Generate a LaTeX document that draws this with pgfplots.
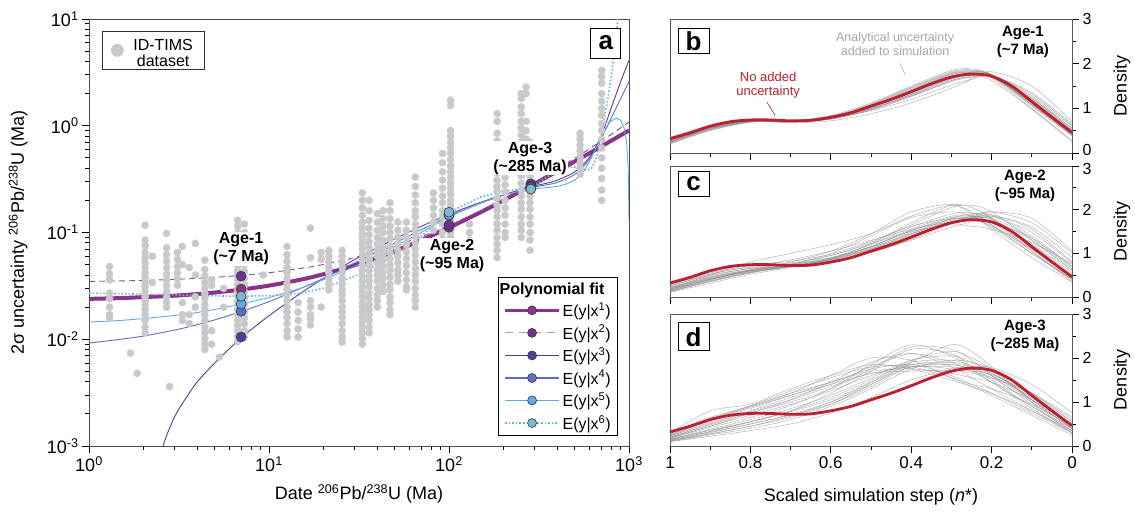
\documentclass[border=0pt]{standalone}
\usepackage{fontspec}
\setmainfont{Liberation Sans}
\setsansfont{Liberation Sans}
\usepackage{pgfplots}
\pgfplotsset{compat=1.18}
\definecolor{scat}{RGB}{200,201,203}
\definecolor{cA}{RGB}{140,50,135}
\definecolor{cB}{RGB}{130,75,155}
\definecolor{cBm}{RGB}{110,50,140}
\definecolor{cC}{RGB}{85,60,150}
\definecolor{cD}{RGB}{95,110,190}
\definecolor{cE}{RGB}{95,170,230}
\definecolor{cF}{RGB}{110,180,205}
\definecolor{cFm}{RGB}{125,185,205}
\definecolor{redl}{RGB}{190,30,45}
\definecolor{gl}{RGB}{135,135,135}
\definecolor{mk}{RGB}{55,55,65}
\newcommand\fs[1]{\fontsize{#1}{#1}\selectfont}
\pgfplotsset{
 gr/.style={gl, line width=0.5pt, opacity=0.6, smooth, forget plot},
 rd/.style={redl, line width=2.8pt, smooth, forget plot},
 mstyle/.style={only marks, mark=*, mark size=5pt, mark options={fill=#1, draw=mk, line width=0.6pt}, forget plot},
 rpanel/.style={scale only axis, width=402pt, anchor=south west,
   xmin=0, xmax=1, ymin=0, ymax=3, x dir=reverse,
   xtick={0,0.2,0.4,0.6,0.8,1}, minor xtick={0.1,0.3,0.5,0.7,0.9},
   minor ytick={0.5,1.5,2.5},
   xtick pos=bottom, ytick pos=right, yticklabel pos=right, tick align=outside,
   major tick length=7pt, minor tick length=4pt,
   tick style={black, line width=0.8pt},
   axis line style={black!65, line width=0.8pt},
   tick label style={font=\fs{17}},
   yticklabel style={font=\fs{16}, inner ysep=0pt},
   ylabel={Density}, ylabel style={font=\fs{18}, at={(axis description cs:1.124,0.5)}, anchor=center},
   clip=true},
}
\begin{document}
\begin{tikzpicture}
% ================= panel a =================
\begin{axis}[
 at={(89pt,68pt)}, anchor=south west, scale only axis, width=540pt, height=427pt,
 xmode=log, ymode=log, xmin=1, xmax=1000, ymin=0.001, ymax=10,
 xtick={1,10,100,1000},
 xticklabels={10\textsuperscript{0},10\textsuperscript{1},10\textsuperscript{2},10\textsuperscript{3}},
 minor xtick={2,3,4,5,6,7,8,9,20,30,40,50,60,70,80,90,200,300,400,500,600,700,800,900},
 ytick={0.001,0.01,0.1,1,10},
 yticklabels={10\textsuperscript{-3},10\textsuperscript{-2},10\textsuperscript{-1},10\textsuperscript{0},10\textsuperscript{1}},
 minor ytick={0.002,0.003,0.004,0.005,0.006,0.007,0.008,0.009,0.02,0.03,0.04,0.05,0.06,0.07,0.08,0.09,0.2,0.3,0.4,0.5,0.6,0.7,0.8,0.9,2,3,4,5,6,7,8,9},
 tick align=outside, xtick pos=bottom, ytick pos=left,
 major tick length=7pt, minor tick length=4pt,
 tick style={black, line width=0.8pt},
 axis line style={black!70, line width=0.9pt},
 tick label style={font=\fs{18}},
 xlabel={Date \textsuperscript{206}Pb/\textsuperscript{238}U (Ma)},
 ylabel={2σ uncertainty \textsuperscript{206}Pb/\textsuperscript{238}U (Ma)},
 label style={font=\fs{18}},
 xlabel style={at={(axis description cs:0.5,-0.112)}, anchor=center},
 ylabel style={at={(axis description cs:-0.131,0.5)}, anchor=center},
 legend style={at={(rel axis cs:0.98,0.023)}, anchor=south east, draw=black, line width=0.8pt,
   font=\fs{16}, fill=white, row sep=3pt, inner xsep=5pt, inner ysep=3pt, cells={anchor=west}},
 legend image code/.code={\draw[mark repeat=2,mark phase=2,#1] plot coordinates {(0pt,0pt) (27pt,0pt) (54pt,0pt)};},
]
% scatter
\addplot[only marks, mark=*, mark size=3.6pt, scat, forget plot] coordinates {
(1.3,0.048)(1.3,0.041)(1.3,0.036)(1.3,0.027)(1.3,0.024)(1.3,0.02)(1.3,0.017)(1.3,0.016)
(1.7,0.0074)(1.85,0.0048)(2.8,0.0036)(5.3,0.0068)
(2.05,0.117)(2.05,0.085)(2.05,0.075)(2.05,0.065)(2.05,0.058)(2.05,0.052)(2.05,0.047)(2.05,0.042)(2.05,0.038)(2.05,0.034)
(2.05,0.031)(2.05,0.028)(2.05,0.025)(2.05,0.023)(2.05,0.021)(2.05,0.019)(2.05,0.017)(2.05,0.015)(2.05,0.013)(2.05,0.0115)
(2.25,0.06)(2.25,0.034)
(2.7,0.098)(2.7,0.072)(2.7,0.062)(2.7,0.054)(2.7,0.047)(2.7,0.041)(2.7,0.036)(2.7,0.032)(2.7,0.028)(2.7,0.025)(2.7,0.022)(2.7,0.02)
(3.1,0.065)(3.1,0.056)(3.1,0.048)(3.1,0.042)(3.1,0.037)(3.1,0.032)
(3.3,0.074)(3.3,0.05)(3.3,0.022)(3.3,0.017)(3.3,0.015)
(3.6,0.047)(3.6,0.017)(3.6,0.014)
(3.9,0.079)(3.9,0.04)(3.9,0.025)(3.9,0.02)
(4.4,0.055)(4.4,0.045)(4.4,0.039)(4.4,0.034)(4.4,0.03)(4.4,0.027)(4.4,0.024)(4.4,0.021)(4.4,0.019)(4.4,0.017)
(4.4,0.015)(4.4,0.013)(4.4,0.0115)(4.4,0.0102)(4.4,0.009)(4.4,0.008)
(4.8,0.036)(4.8,0.032)(4.8,0.012)(4.8,0.009)
(5.6,0.03)(5.6,0.02)
(6.7,0.13)(6.7,0.115)(6.7,0.1)(6.7,0.088)(6.7,0.078)(6.7,0.07)(6.7,0.062)(6.7,0.055)(6.7,0.049)(6.7,0.044)(6.7,0.04)(6.7,0.036)
(6.7,0.032)(6.7,0.029)(6.7,0.026)(6.7,0.023)(6.7,0.021)(6.7,0.019)(6.7,0.017)(6.7,0.015)(6.7,0.0135)(6.7,0.012)(6.7,0.0107)(6.7,0.0095)
(7.3,0.12)(7.3,0.1)(7.3,0.082)(7.3,0.07)(7.3,0.06)(7.3,0.05)(7.3,0.043)(7.3,0.037)(7.3,0.032)(7.3,0.028)(7.3,0.024)(7.3,0.021)
(7.3,0.018)(7.3,0.016)(7.3,0.014)(7.3,0.012)(7.3,0.0105)
(9.3,0.068)(9.3,0.04)
(12.6,0.074)(12.6,0.062)(12.6,0.054)(12.6,0.047)(12.6,0.042)(12.6,0.037)(12.6,0.033)(12.6,0.029)(12.6,0.026)(12.6,0.023)
(12.6,0.02)(12.6,0.018)(12.6,0.016)(12.6,0.014)(12.6,0.012)(12.6,0.0105)
(14.5,0.022)(14.5,0.018)(14.5,0.015)(14.5,0.0125)(14.5,0.0105)
(17,0.11)(17,0.058)(17,0.023)(17,0.02)(17,0.017)(17,0.0155)(17,0.0136)
(19.5,0.065)(19.5,0.056)(19.5,0.02)
(21.5,0.068)(21.5,0.06)(21.5,0.053)(21.5,0.047)(21.5,0.042)(21.5,0.037)(21.5,0.033)(21.5,0.029)
(25.5,0.068)(25.5,0.06)(25.5,0.053)(25.5,0.047)(25.5,0.042)(25.5,0.037)(25.5,0.033)(25.5,0.029)(25.5,0.026)(25.5,0.023)
(25.5,0.02)(25.5,0.018)(25.5,0.016)(25.5,0.014)(25.5,0.012)(25.5,0.0105)(25.5,0.0094)
(33,0.235)(33,0.2)(33,0.17)(33,0.145)(33,0.125)(33,0.11)(33,0.098)(33,0.088)(33,0.078)(33,0.07)(33,0.062)(33,0.055)(33,0.049)(33,0.044)
(33,0.039)(33,0.035)(33,0.031)(33,0.028)(33,0.025)(33,0.022)(33,0.02)(33,0.018)(33,0.016)(33,0.0145)(33,0.013)(33,0.0115)(33,0.0102)(33,0.009)
(36,0.2)(36,0.16)(36,0.13)(36,0.11)(36,0.095)(36,0.082)(36,0.072)(36,0.063)(36,0.056)(36,0.05)(36,0.044)(36,0.039)(36,0.035)(36,0.031)
(36,0.027)(36,0.024)(36,0.021)(36,0.019)(36,0.017)(36,0.015)(36,0.013)(36,0.0115)
(40,0.15)(40,0.125)(40,0.105)(40,0.09)(40,0.078)(40,0.068)(40,0.06)(40,0.052)(40,0.045)(40,0.04)(40,0.035)(40,0.03)(40,0.026)(40,0.023)(40,0.02)
(43,0.16)(43,0.135)(43,0.115)(43,0.1)(43,0.085)(43,0.073)(43,0.063)(43,0.055)(43,0.048)(43,0.042)(43,0.037)(43,0.032)(43,0.028)
(47,0.19)(47,0.16)(47,0.135)(47,0.115)(47,0.1)(47,0.087)(47,0.075)(47,0.065)(47,0.057)(47,0.05)(47,0.044)(47,0.038)(47,0.033)
(47,0.029)(47,0.025)(47,0.022)(47,0.019)(47,0.017)
(52,0.125)(52,0.105)(52,0.09)(52,0.078)(52,0.068)(52,0.06)(52,0.052)(52,0.045)(52,0.04)(52,0.035)
(58,0.125)(58,0.105)(58,0.09)(58,0.077)(58,0.066)(58,0.057)(58,0.049)(58,0.042)(58,0.036)(58,0.031)(58,0.029)
(65,0.33)(65,0.27)(65,0.225)(65,0.19)(65,0.16)(65,0.14)(65,0.12)(65,0.105)(65,0.092)(65,0.08)(65,0.07)(65,0.061)(65,0.053)
(65,0.046)(65,0.04)(65,0.035)(65,0.03)(65,0.026)(65,0.023)(65,0.02)
(82,0.235)(82,0.2)(82,0.17)(82,0.145)(82,0.125)(82,0.105)
(92,0.55)(92,0.45)(92,0.37)(92,0.31)(92,0.26)(92,0.22)(92,0.19)(92,0.16)(92,0.14)(92,0.12)(92,0.1)(92,0.087)(92,0.075)(92,0.068)
(102,1.74)(102,1.55)(102,0.9)(102,0.8)(102,0.7)(102,0.62)(102,0.55)(102,0.48)(102,0.42)(102,0.37)(102,0.33)(102,0.29)
(102,0.26)(102,0.23)(102,0.2)(102,0.18)(102,0.16)(102,0.14)(102,0.125)(102,0.11)(102,0.1)(102,0.09)(102,0.08)(102,0.07)
(130,0.12)(130,0.1)(130,0.085)(130,0.07)
(185,1.3)(185,1.1)(185,0.85)(185,0.72)(185,0.62)(185,0.54)(185,0.47)(185,0.41)(185,0.36)(185,0.31)(185,0.27)
(185,0.24)(185,0.21)(185,0.18)(185,0.16)(185,0.14)(185,0.12)(185,0.105)(185,0.09)(185,0.078)(185,0.068)(185,0.058)
(205,0.33)(205,0.28)(205,0.24)(205,0.2)(205,0.17)(205,0.145)(205,0.12)(205,0.1)(205,0.09)
(252,2.0)(252,1.8)(252,1.5)(252,1.3)(252,1.1)(252,0.95)(252,0.82)(252,0.7)(252,0.6)(252,0.52)(252,0.45)
(252,0.39)(252,0.34)(252,0.29)(252,0.25)(252,0.22)(252,0.19)(252,0.165)(252,0.14)(252,0.12)(252,0.105)(252,0.09)
(268,2.3)(268,2.0)(268,1.1)(268,0.9)(268,0.75)(268,0.62)(268,0.53)(268,0.45)
(282,0.7)(282,0.6)(282,0.52)(282,0.45)(282,0.39)(282,0.34)(282,0.3)(282,0.26)(282,0.22)(282,0.19)(282,0.165)
(282,0.14)(282,0.12)(282,0.1)(282,0.085)(282,0.068)
(535,0.85)(535,0.75)(535,0.66)(535,0.58)(535,0.51)(535,0.45)(535,0.4)(535,0.35)
(705,3.3)(705,2.9)(705,2.5)(705,2.0)(705,1.7)(705,1.45)(705,1.25)(705,1.05)(705,0.9)(705,0.75)(705,0.62)(705,0.5)
(705,0.4)(705,0.32)(705,0.25)(705,0.2)
};
% fits
\addplot[cA, line width=4pt, smooth, forget plot] coordinates {
(1,0.0239)(1.5,0.0243)(2,0.0248)(3,0.0256)(4,0.0265)(5,0.0274)(7,0.0292)(10,0.0318)(15,0.0362)(20,0.0406)(30,0.0494)
(40,0.0582)(50,0.067)(70,0.0846)(100,0.111)(150,0.155)(200,0.199)(285,0.2738)(350,0.331)(400,0.375)(500,0.463)
(600,0.551)(700,0.639)(800,0.727)(900,0.815)(1000,0.903)};
\addplot[cB, line width=0.9pt, dashed, dash pattern=on 6pt off 4pt, smooth, forget plot] coordinates {
(1,0.0348)(1.5,0.0352)(2,0.0356)(3,0.0364)(4,0.0372)(5,0.038)(7,0.0396)(10,0.042)(15,0.0461)(20,0.0501)(30,0.0582)
(40,0.0664)(50,0.0746)(70,0.0912)(100,0.1165)(150,0.1596)(200,0.204)(285,0.2823)(350,0.3446)(400,0.394)(500,0.4965)
(600,0.604)(700,0.7165)(800,0.834)(900,0.9565)(1000,1.084)};
\addplot[cC, line width=0.9pt, smooth, forget plot] coordinates {
(2.3,0.0004)(2.58,0.001)(3,0.0019)(3.5,0.0029)(4,0.004)(5,0.006)(7,0.0103)(10,0.0166)(15,0.027)(20,0.037)(30,0.056)
(40,0.072)(50,0.087)(70,0.114)(100,0.148)(150,0.192)(200,0.225)(285,0.268)(350,0.29)(400,0.31)(500,0.37)
(600,0.5)(700,0.8)(800,1.5)(900,2.6)(1000,4.1)};
\addplot[cD, line width=0.9pt, smooth, forget plot] coordinates {
(1,0.0092)(1.5,0.01)(2,0.0107)(3,0.0122)(4,0.0137)(5,0.0152)(7,0.0182)(10,0.0225)(15,0.03)(20,0.037)(30,0.052)
(40,0.066)(50,0.08)(70,0.106)(100,0.142)(150,0.188)(200,0.222)(285,0.262)(350,0.28)(400,0.295)(500,0.35)
(600,0.48)(700,0.75)(800,1.2)(900,1.8)(1000,2.6)};
\addplot[cE, line width=0.9pt, forget plot] coordinates {
(1,0.0145)(1.5,0.015)(2,0.0156)(3,0.0167)(4,0.0178)(5,0.019)(7,0.0214)(10,0.0245)(15,0.03)(20,0.036)(30,0.048)
(40,0.061)(50,0.074)(70,0.1)(100,0.14)(150,0.19)(200,0.225)(285,0.255)(350,0.263)(400,0.27)(450,0.285)(500,0.31)
(550,0.36)(600,0.45)(650,0.6)(700,0.78)(750,0.98)(800,1.12)(850,1.18)(900,1.12)(940,0.95)(970,0.7)(990,0.4)(1000,0.13)};
\addplot[cF, line width=1.6pt, dotted, forget plot] coordinates {
(1,0.027)(1.5,0.0267)(2,0.0264)(3,0.026)(5,0.0255)(7,0.0253)(10,0.0256)(15,0.027)(20,0.03)(30,0.039)(40,0.05)
(55,0.07)(70,0.092)(100,0.155)(150,0.215)(200,0.245)(285,0.262)(350,0.33)(420,0.4)(500,0.41)(580,0.38)(620,0.4)
(660,0.5)(700,0.8)(750,1.5)(800,3.0)(840,6.0)(870,10.5)};
% markers
\addplot[mstyle=cA] coordinates {(7,0.0295)(100,0.112)(285,0.285)};
\addplot[mstyle=cBm] coordinates {(7,0.039)(100,0.118)(285,0.283)};
\addplot[mstyle=cC] coordinates {(7,0.0105)(100,0.148)(285,0.27)};
\addplot[mstyle=cD] coordinates {(7,0.0183)(100,0.145)(285,0.265)};
\addplot[mstyle=cE] coordinates {(7,0.0214)(100,0.146)(285,0.257)};
\addplot[mstyle=cFm] coordinates {(7,0.0253)(100,0.155)(285,0.255)};
% legend
\addlegendimage{empty legend}\addlegendentry{\hspace*{-63pt}\textbf{Polynomial fit}}
\addlegendimage{cA, line width=3pt, mark=*, mark size=4.5pt, mark options={solid, fill=cA, draw=mk, line width=0.6pt}}
\addlegendentry{E(y|x\textsuperscript{1})}
\addlegendimage{cB!60, line width=1.2pt, dash pattern=on 8pt off 6pt, mark=*, mark size=4.5pt, mark options={solid, fill=cBm, draw=mk, line width=0.6pt}}
\addlegendentry{E(y|x\textsuperscript{2})}
\addlegendimage{cC, line width=1.5pt, mark=*, mark size=4.5pt, mark options={solid, fill=cC, draw=mk, line width=0.6pt}}
\addlegendentry{E(y|x\textsuperscript{3})}
\addlegendimage{cD, line width=1.5pt, mark=*, mark size=4.5pt, mark options={solid, fill=cD, draw=mk, line width=0.6pt}}
\addlegendentry{E(y|x\textsuperscript{4})}
\addlegendimage{cE, line width=1.5pt, mark=*, mark size=4.5pt, mark options={solid, fill=cE, draw=mk, line width=0.6pt}}
\addlegendentry{E(y|x\textsuperscript{5})}
\addlegendimage{cF, line width=1.6pt, dotted, mark=*, mark size=4.5pt, mark options={solid, fill=cFm, draw=mk, line width=0.6pt}}
\addlegendentry{E(y|x\textsuperscript{6})}
\coordinate (ageA) at (axis cs:7,0.07);
\coordinate (ageB) at (axis cs:104,0.0614);
\coordinate (ageC) at (axis cs:282,0.497);
\coordinate (boxa) at (rel axis cs:0.957,0.944);
\end{axis}
\node[fill=white, inner sep=1pt, font=\bfseries\fontsize{16}{18}\selectfont, align=center] at (ageA) {Age-1\\(\textasciitilde7 Ma)};
\node[fill=white, inner sep=1pt, font=\bfseries\fontsize{16}{18}\selectfont, align=center] at (ageB) {Age-2\\(\textasciitilde95 Ma)};
\node[fill=white, inner sep=1pt, font=\bfseries\fontsize{16}{18}\selectfont, align=center] at (ageC) {Age-3\\(\textasciitilde285 Ma)};
\node[draw=black, line width=0.8pt, fill=white, font=\bfseries\fs{26}, minimum width=30pt, minimum height=30pt, inner sep=0pt] at (boxa) {a};
% ID-TIMS legend overlay
\begin{axis}[at={(89pt,68pt)}, anchor=south west, scale only axis, width=540pt, height=427pt,
 hide axis, xmin=0, xmax=1, ymin=0, ymax=1,
 legend style={at={(rel axis cs:0.024,0.972)}, anchor=north west, draw=black!80, line width=0.8pt,
   font=\fs{16}, inner xsep=9pt, inner ysep=6pt, column sep=8pt},
 legend image code/.code={\draw plot[#1] coordinates {(6pt,0pt)};},
]
\addlegendimage{only marks, mark=*, mark size=6pt, scat}
\addlegendentry{\begin{tabular}{@{}c@{}}ID-TIMS\\[0pt]dataset\end{tabular}}
\end{axis}
% ================= panel b =================
\begin{axis}[rpanel, at={(670pt,361pt)}, height=134pt, xticklabels={},
 ytick={1,2,3}, yticklabels={1,2,3},
 extra y ticks={0}, extra y tick labels={0},
 extra y tick style={yticklabel style={yshift=3pt}, major tick length=7pt, tick style={black, line width=0.8pt}}]
\addplot[gr] coordinates {(1,.28)(.9,.58)(.8,.73)(.7,.72)(.6,.80)(.5,1.05)(.4,1.40)(.3,1.75)(.25,1.82)(.2,1.75)(.1,1.15)(0,.45)};
\addplot[gr] coordinates {(1,.25)(.9,.55)(.8,.72)(.7,.70)(.6,.78)(.5,1.02)(.4,1.35)(.3,1.68)(.25,1.74)(.2,1.70)(.1,1.18)(0,.50)};
\addplot[gr] coordinates {(1,.30)(.9,.60)(.8,.75)(.7,.73)(.6,.79)(.5,1.00)(.4,1.30)(.3,1.65)(.25,1.74)(.2,1.72)(.1,1.22)(0,.55)};
\addplot[gr] coordinates {(1,.22)(.9,.52)(.8,.70)(.7,.71)(.6,.82)(.5,1.10)(.4,1.48)(.3,1.82)(.25,1.86)(.2,1.74)(.1,1.05)(0,.40)};
\addplot[gr] coordinates {(1,.35)(.9,.62)(.8,.74)(.7,.71)(.6,.76)(.5,.96)(.4,1.26)(.3,1.62)(.25,1.72)(.2,1.73)(.1,1.28)(0,.60)};
\addplot[gr] coordinates {(1,.27)(.9,.57)(.8,.72)(.7,.70)(.6,.76)(.5,.98)(.4,1.32)(.3,1.68)(.25,1.76)(.2,1.74)(.1,1.20)(0,.50)};
\addplot[gr] coordinates {(1,.20)(.9,.50)(.8,.69)(.7,.72)(.6,.84)(.5,1.12)(.4,1.50)(.3,1.85)(.25,1.88)(.2,1.76)(.1,1.08)(0,.38)};
\addplot[gr] coordinates {(1,.32)(.9,.61)(.8,.74)(.7,.72)(.6,.78)(.5,.95)(.4,1.20)(.3,1.52)(.25,1.65)(.2,1.72)(.1,1.35)(0,.65)};
\addplot[gr] coordinates {(1,.25)(.9,.55)(.8,.70)(.7,.68)(.6,.72)(.5,.88)(.4,1.12)(.3,1.45)(.25,1.65)(.2,1.82)(.1,1.50)(0,.70)};
\addplot[gr] coordinates {(1,.29)(.9,.59)(.8,.73)(.7,.71)(.6,.79)(.5,1.03)(.4,1.38)(.3,1.72)(.25,1.78)(.2,1.71)(.1,1.12)(0,.44)};
\addplot[gr] coordinates {(1,.24)(.9,.54)(.8,.71)(.7,.72)(.6,.81)(.5,1.06)(.4,1.42)(.3,1.78)(.25,1.83)(.2,1.73)(.1,1.10)(0,.42)};
\addplot[gr] coordinates {(1,.31)(.9,.60)(.8,.73)(.7,.70)(.6,.77)(.5,.99)(.4,1.31)(.3,1.66)(.25,1.75)(.2,1.73)(.1,1.25)(0,.55)};
\addplot[gr] coordinates {(1,.23)(.9,.53)(.8,.70)(.7,.70)(.6,.79)(.5,1.04)(.4,1.38)(.3,1.72)(.25,1.79)(.2,1.74)(.1,1.15)(0,.47)};
\addplot[gr] coordinates {(1,.28)(.9,.57)(.8,.71)(.7,.69)(.6,.76)(.5,.97)(.4,1.28)(.3,1.62)(.25,1.70)(.2,1.70)(.1,1.22)(0,.52)};
\addplot[gr] coordinates {(1,.33)(.9,.61)(.8,.74)(.7,.73)(.6,.82)(.5,1.07)(.4,1.42)(.3,1.76)(.25,1.80)(.2,1.70)(.1,1.08)(0,.42)};
\addplot[gr] coordinates {(1,.21)(.9,.51)(.8,.69)(.7,.70)(.6,.80)(.5,1.08)(.4,1.46)(.3,1.80)(.25,1.84)(.2,1.75)(.1,1.12)(0,.40)};
\addplot[gr] coordinates {(1,.26)(.9,.57)(.8,.73)(.7,.73)(.6,.80)(.5,1.00)(.4,1.28)(.3,1.60)(.25,1.70)(.2,1.74)(.1,1.32)(0,.62)};
\addplot[gr] coordinates {(1,.30)(.9,.59)(.8,.72)(.7,.70)(.6,.78)(.5,1.02)(.4,1.36)(.3,1.70)(.25,1.76)(.2,1.71)(.1,1.14)(0,.45)};
\addplot[gr] coordinates {(1,.27)(.9,.56)(.8,.71)(.7,.71)(.6,.81)(.5,1.08)(.4,1.45)(.3,1.78)(.25,1.80)(.2,1.68)(.1,1.00)(0,.28)};
\addplot[gr] coordinates {(1,.24)(.9,.54)(.8,.70)(.7,.70)(.6,.79)(.5,1.05)(.4,1.40)(.3,1.72)(.25,1.74)(.2,1.62)(.1,.98)(0,.25)};
\addplot[rd] coordinates {(1,.32)(.95,.45)(.9,.6)(.85,.7)(.8,.74)(.75,.74)(.7,.72)(.65,.73)(.6,.8)(.55,.9)(.5,1.05)(.45,1.2)(.4,1.37)(.35,1.55)(.3,1.7)(.25,1.77)(.2,1.72)(.15,1.5)(.1,1.15)(.05,.8)(0,.46)};
\node[font=\fontsize{12.5}{14}\selectfont, text=black!35, align=center] at (axis cs:0.44,2.44) {Analytical uncertainty\\added to simulation};
\draw[black!35, line width=0.5pt] (axis cs:0.428,2.01) -- (axis cs:0.415,1.745);
\node[font=\fontsize{13}{14}\selectfont, text=redl, align=center] at (axis cs:0.756,1.53) {No added\\uncertainty};
\draw[redl, line width=0.6pt] (axis cs:0.759,1.14) -- (axis cs:0.739,0.85);
\node[font=\bfseries\fontsize{15}{18}\selectfont, align=center] at (axis cs:0.122,2.48) {Age-1\\(\textasciitilde7 Ma)};
\node[draw=black, line width=0.8pt, fill=white, font=\bfseries\fs{26}, minimum width=31pt, minimum height=25pt, inner sep=0pt] at (axis cs:0.9415,2.5) {b};
\end{axis}
% ================= panel c =================
\begin{axis}[rpanel, at={(670pt,217pt)}, height=131pt, xticklabels={},
 ytick={0,1,2}, yticklabels={0,1,2},
 extra y ticks={3}, extra y tick labels={3},
 extra y tick style={yticklabel style={yshift=-3pt}, major tick length=7pt, tick style={black, line width=0.8pt}}]
\addplot[gr] coordinates {(1,.15)(.9,.40)(.8,.60)(.7,.75)(.6,.95)(.5,1.25)(.4,1.65)(.3,2.05)(.25,2.10)(.2,1.95)(.1,1.30)(0,.60)};
\addplot[gr] coordinates {(1,.20)(.9,.45)(.8,.62)(.7,.72)(.6,.85)(.5,1.10)(.4,1.45)(.3,1.80)(.25,1.90)(.2,1.88)(.1,1.40)(0,.70)};
\addplot[gr] coordinates {(1,.12)(.9,.35)(.8,.55)(.7,.70)(.6,.88)(.5,1.15)(.4,1.55)(.3,1.85)(.25,1.86)(.2,1.70)(.1,1.10)(0,.45)};
\addplot[gr] coordinates {(1,.25)(.9,.50)(.8,.65)(.7,.72)(.6,.82)(.5,1.02)(.4,1.30)(.3,1.60)(.25,1.72)(.2,1.85)(.1,1.60)(0,.90)};
\addplot[gr] coordinates {(1,.18)(.9,.42)(.8,.60)(.7,.73)(.6,.90)(.5,1.20)(.4,1.60)(.3,1.90)(.25,1.92)(.2,1.80)(.1,1.20)(0,.50)};
\addplot[gr] coordinates {(1,.10)(.9,.32)(.8,.52)(.7,.68)(.6,.88)(.5,1.22)(.4,1.70)(.3,2.10)(.25,2.05)(.2,1.80)(.1,1.05)(0,.40)};
\addplot[gr] coordinates {(1,.22)(.9,.48)(.8,.66)(.7,.78)(.6,.95)(.5,1.22)(.4,1.50)(.3,1.65)(.25,1.62)(.2,1.55)(.1,1.25)(0,.75)};
\addplot[gr] coordinates {(1,.16)(.9,.40)(.8,.58)(.7,.70)(.6,.84)(.5,1.08)(.4,1.40)(.3,1.72)(.25,1.85)(.2,1.95)(.1,1.70)(0,1.00)};
\addplot[gr] coordinates {(1,.28)(.9,.55)(.8,.72)(.7,.82)(.6,.98)(.5,1.28)(.4,1.62)(.3,1.80)(.25,1.76)(.2,1.62)(.1,1.10)(0,.50)};
\addplot[gr] coordinates {(1,.14)(.9,.38)(.8,.57)(.7,.69)(.6,.82)(.5,1.05)(.4,1.38)(.3,1.70)(.25,1.80)(.2,1.88)(.1,1.55)(0,.80)};
\addplot[gr] coordinates {(1,.19)(.9,.44)(.8,.61)(.7,.71)(.6,.86)(.5,1.12)(.4,1.48)(.3,1.78)(.25,1.82)(.2,1.78)(.1,1.30)(0,.62)};
\addplot[gr] coordinates {(1,.12)(.9,.36)(.8,.56)(.7,.74)(.6,1.00)(.5,1.40)(.4,1.82)(.3,1.95)(.25,1.85)(.2,1.60)(.1,1.00)(0,.42)};
\addplot[gr] coordinates {(1,.24)(.9,.52)(.8,.70)(.7,.85)(.6,1.05)(.5,1.30)(.4,1.55)(.3,1.72)(.25,1.75)(.2,1.72)(.1,1.35)(0,.70)};
\addplot[gr] coordinates {(1,.17)(.9,.41)(.8,.59)(.7,.70)(.6,.82)(.5,1.02)(.4,1.32)(.3,1.68)(.25,1.82)(.2,1.95)(.1,1.80)(0,1.05)};
\addplot[gr] coordinates {(1,.21)(.9,.46)(.8,.63)(.7,.74)(.6,.89)(.5,1.16)(.4,1.52)(.3,1.82)(.25,1.85)(.2,1.78)(.1,1.22)(0,.55)};
\addplot[gr] coordinates {(1,.13)(.9,.37)(.8,.56)(.7,.70)(.6,.87)(.5,1.15)(.4,1.52)(.3,1.78)(.25,1.78)(.2,1.65)(.1,1.05)(0,.35)};
\addplot[gr] coordinates {(1,.26)(.9,.53)(.8,.68)(.7,.76)(.6,.90)(.5,1.14)(.4,1.45)(.3,1.72)(.25,1.80)(.2,1.85)(.1,1.48)(0,.78)};
\addplot[gr] coordinates {(1,.18)(.9,.43)(.8,.60)(.7,.72)(.6,.86)(.5,1.10)(.4,1.43)(.3,1.76)(.25,1.84)(.2,1.82)(.1,1.35)(0,.65)};
\addplot[gr] coordinates {(1,.20)(.9,.50)(.8,.80)(.7,1.00)(.6,1.20)(.5,1.45)(.4,1.85)(.3,2.10)(.25,1.95)(.2,1.65)(.1,1.00)(0,.40)};
\addplot[gr] coordinates {(1,.15)(.9,.40)(.8,.62)(.7,.80)(.6,1.05)(.5,1.45)(.4,1.95)(.3,2.12)(.25,1.90)(.2,1.55)(.1,.90)(0,.35)};
\addplot[rd] coordinates {(1,.32)(.95,.45)(.9,.6)(.85,.7)(.8,.74)(.75,.74)(.7,.72)(.65,.73)(.6,.8)(.55,.9)(.5,1.05)(.45,1.2)(.4,1.37)(.35,1.55)(.3,1.7)(.25,1.77)(.2,1.72)(.15,1.5)(.1,1.15)(.05,.8)(0,.46)};
\node[font=\bfseries\fontsize{15}{18}\selectfont, align=center] at (axis cs:0.117,2.54) {Age-2\\(\textasciitilde95 Ma)};
\node[draw=black, line width=0.8pt, fill=white, font=\bfseries\fs{26}, minimum width=31pt, minimum height=25pt, inner sep=0pt] at (axis cs:0.9415,2.59) {c};
\end{axis}
% ================= panel d =================
\begin{axis}[rpanel, at={(670pt,68pt)}, height=132pt,
 ytick={0,1,2,3}, yticklabels={0,1,2,3},
 xticklabels={0,0.2,0.4,0.6,0.8,1},
 xlabel={Scaled simulation step (\textit{n}*)},
 xlabel style={font=\fs{18}, at={(axis description cs:0.5,-0.386)}, anchor=center}]
\addplot[gr] coordinates {(1,.15)(.9,.35)(.8,.55)(.7,.80)(.6,1.20)(.5,1.70)(.4,2.20)(.3,2.10)(.25,1.80)(.2,1.50)(.1,.90)(0,.35)};
\addplot[gr] coordinates {(1,.25)(.9,.60)(.8,.90)(.7,1.20)(.6,1.45)(.5,1.75)(.4,1.85)(.3,1.60)(.25,1.40)(.2,1.20)(.1,.75)(0,.30)};
\addplot[gr] coordinates {(1,.10)(.9,.25)(.8,.40)(.7,.60)(.6,.90)(.5,1.30)(.4,1.75)(.3,1.95)(.25,1.90)(.2,1.75)(.1,1.20)(0,.55)};
\addplot[gr] coordinates {(1,.20)(.9,.50)(.8,.80)(.7,1.10)(.6,1.40)(.5,1.80)(.4,2.10)(.3,1.90)(.25,1.70)(.2,1.45)(.1,.90)(0,.40)};
\addplot[gr] coordinates {(1,.30)(.9,.80)(.8,.95)(.7,1.30)(.6,1.60)(.5,1.85)(.4,1.75)(.3,1.50)(.25,1.35)(.2,1.20)(.1,.80)(0,.35)};
\addplot[gr] coordinates {(1,.12)(.9,.30)(.8,.50)(.7,.70)(.6,.95)(.5,1.35)(.4,1.80)(.3,1.85)(.25,1.75)(.2,1.60)(.1,1.10)(0,.50)};
\addplot[gr] coordinates {(1,.18)(.9,.45)(.8,.75)(.7,1.00)(.6,1.30)(.5,1.75)(.4,2.25)(.3,2.20)(.25,1.95)(.2,1.60)(.1,.95)(0,.30)};
\addplot[gr] coordinates {(1,.22)(.9,.55)(.8,.85)(.7,1.15)(.6,1.45)(.5,1.70)(.4,1.75)(.3,1.65)(.25,1.55)(.2,1.45)(.1,1.05)(0,.50)};
\addplot[gr] coordinates {(1,.14)(.9,.32)(.8,.50)(.7,.72)(.6,1.00)(.5,1.40)(.4,1.80)(.3,1.75)(.25,1.65)(.2,1.55)(.1,1.20)(0,.65)};
\addplot[gr] coordinates {(1,.28)(.9,.65)(.8,.90)(.7,1.20)(.6,1.60)(.5,2.00)(.4,1.95)(.3,1.55)(.25,1.35)(.2,1.15)(.1,.70)(0,.25)};
\addplot[gr] coordinates {(1,.16)(.9,.38)(.8,.60)(.7,.85)(.6,1.15)(.5,1.55)(.4,1.95)(.3,2.05)(.25,1.90)(.2,1.70)(.1,1.05)(0,.40)};
\addplot[gr] coordinates {(1,.10)(.9,.22)(.8,.35)(.7,.50)(.6,.75)(.5,1.10)(.4,1.50)(.3,1.75)(.25,1.80)(.2,1.78)(.1,1.40)(0,.75)};
\addplot[gr] coordinates {(1,.24)(.9,.58)(.8,.88)(.7,1.15)(.6,1.40)(.5,1.65)(.4,1.80)(.3,1.80)(.25,1.70)(.2,1.55)(.1,1.00)(0,.40)};
\addplot[gr] coordinates {(1,.12)(.9,.28)(.8,.45)(.7,.65)(.6,.95)(.5,1.40)(.4,1.90)(.3,2.30)(.25,2.15)(.2,1.80)(.1,1.00)(0,.35)};
\addplot[gr] coordinates {(1,.20)(.9,.48)(.8,.75)(.7,1.05)(.6,1.45)(.5,1.90)(.4,2.10)(.3,1.80)(.25,1.55)(.2,1.30)(.1,.80)(0,.30)};
\addplot[gr] coordinates {(1,.15)(.9,.36)(.8,.55)(.7,.78)(.6,1.05)(.5,1.45)(.4,1.85)(.3,1.90)(.25,1.80)(.2,1.65)(.1,1.15)(0,.55)};
\addplot[gr] coordinates {(1,.26)(.9,.62)(.8,.92)(.7,1.25)(.6,1.55)(.5,1.80)(.4,1.80)(.3,1.55)(.25,1.40)(.2,1.30)(.1,.95)(0,.45)};
\addplot[gr] coordinates {(1,.11)(.9,.27)(.8,.45)(.7,.68)(.6,1.00)(.5,1.45)(.4,1.95)(.3,2.15)(.25,2.00)(.2,1.75)(.1,1.05)(0,.40)};
\addplot[gr] coordinates {(1,.19)(.9,.45)(.8,.70)(.7,.95)(.6,1.25)(.5,1.60)(.4,1.85)(.3,1.85)(.25,1.75)(.2,1.60)(.1,1.05)(0,.45)};
\addplot[gr] coordinates {(1,.13)(.9,.33)(.8,.55)(.7,.80)(.6,1.10)(.5,1.50)(.4,1.90)(.3,1.95)(.25,1.82)(.2,1.65)(.1,1.10)(0,.45)};
\addplot[gr] coordinates {(1,.17)(.9,.42)(.8,.65)(.7,.92)(.6,1.30)(.5,1.85)(.4,2.30)(.3,2.05)(.25,1.75)(.2,1.45)(.1,.85)(0,.30)};
\addplot[gr] coordinates {(1,.23)(.9,.52)(.8,.78)(.7,1.05)(.6,1.35)(.5,1.65)(.4,1.70)(.3,1.72)(.25,1.70)(.2,1.62)(.1,1.20)(0,.60)};
\addplot[rd] coordinates {(1,.32)(.95,.45)(.9,.6)(.85,.7)(.8,.74)(.75,.74)(.7,.72)(.65,.73)(.6,.8)(.55,.9)(.5,1.05)(.45,1.2)(.4,1.37)(.35,1.55)(.3,1.7)(.25,1.77)(.2,1.72)(.15,1.5)(.1,1.15)(.05,.8)(0,.46)};
\node[font=\bfseries\fontsize{15}{18}\selectfont, align=center] at (axis cs:0.117,2.5) {Age-3\\(\textasciitilde285 Ma)};
\node[draw=black, line width=0.8pt, fill=white, font=\bfseries\fs{26}, minimum width=31pt, minimum height=28pt, inner sep=0pt] at (axis cs:0.9415,2.48) {d};
\end{axis}
\pgfresetboundingbox
\useasboundingbox (0pt,0pt) rectangle (1135pt,514pt);
\end{tikzpicture}
\end{document}
